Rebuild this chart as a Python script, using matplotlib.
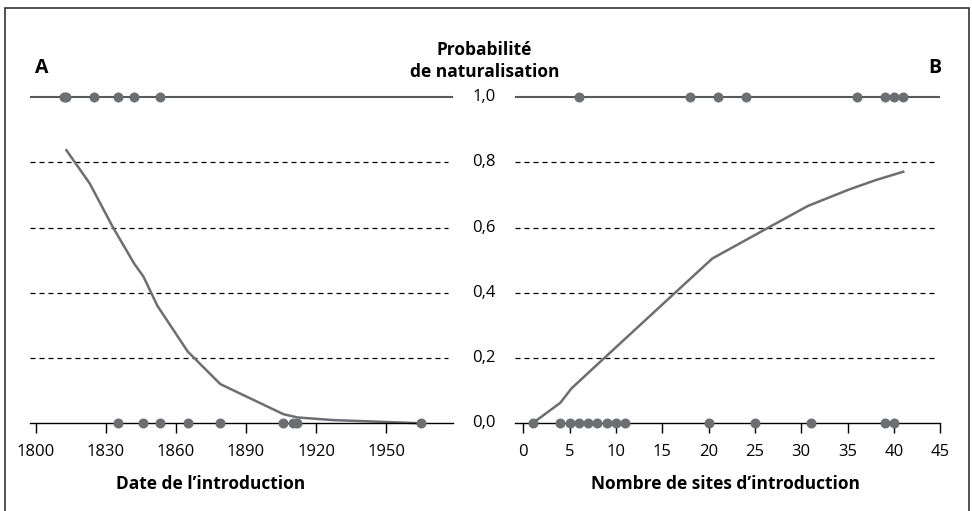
import matplotlib.pyplot as plt
from matplotlib.patches import Rectangle
from matplotlib.transforms import blended_transform_factory

# Panneau A : date de l'introduction
annees_natur = [1812, 1813, 1825, 1835, 1842, 1853]
annees_echec = [1835, 1846, 1853, 1865, 1879, 1906, 1910, 1912, 1965]
annees_courbe = [1813, 1823, 1833, 1842, 1846, 1852, 1865, 1879, 1906, 1912, 1927, 1950, 1965]
proba_annees = [0.837, 0.735, 0.60, 0.49, 0.45, 0.36, 0.22, 0.12, 0.028, 0.018, 0.01, 0.004, 0.0]
ticks_annees = [1800, 1830, 1860, 1890, 1920, 1950]

# Panneau B : nombre de sites d'introduction
sites_natur = [6, 18, 21, 24, 36, 39, 40, 41]
sites_echec = [1, 4, 5, 6, 7, 8, 9, 10, 11, 20, 25, 31, 39, 40]
sites_courbe = [1, 4, 5.2, 8.7, 16.3, 20.4, 26.4, 30.7, 35.2, 38, 41]
proba_sites = [0.0, 0.063, 0.107, 0.199, 0.398, 0.505, 0.599, 0.666, 0.717, 0.745, 0.771]
ticks_sites = [0, 5, 10, 15, 20, 25, 30, 35, 40, 45]

y_ticks = [0.0, 0.2, 0.4, 0.6, 0.8, 1.0]
y_labels = ['0,0', '0,2', '0,4', '0,6', '0,8', '1,0']

plt.rcParams['font.family'] = ['Open Sans', 'DejaVu Sans']

W, H = 972, 511
DOT = '#6d6e71'
LINE = '#58595b'

fig = plt.figure(figsize=(W / 100, H / 100), dpi=100)
fig.patch.set_facecolor('white')


def px(x, y):
    return x / W, 1 - y / H


# cadre
fig.patches.append(Rectangle(px(5, 515), (969 - 5) / W, (515 - 8) / H,
                             transform=fig.transFigure, fill=False,
                             edgecolor='#333333', lw=1.2))

ymin, ymax = -0.03, 1.03
ppu = 326.3
bot = 423.3 - ymin * ppu
top = 97 - (ymax - 1) * ppu


def make_ax(x0, x1, xlim):
    l, b = px(x0, bot)
    ax = fig.add_axes([l, b, (x1 - x0) / W, (bot - top) / H])
    ax.set_xlim(*xlim)
    ax.set_ylim(ymin, ymax)
    for s in ['top', 'left', 'right']:
        ax.spines[s].set_visible(False)
    ax.spines['bottom'].set_position(('data', 0))
    ax.spines['bottom'].set_linewidth(1.0)
    ax.set_yticks([])
    ax.tick_params(axis='x', direction='out', length=7, width=1.0,
                   labelsize=12, pad=8)
    ax.patch.set_visible(False)
    return ax


axA = make_ax(30, 453, (1797.4, 1978.7))
axB = make_ax(515.3, 940.3, (-0.863, 45))

for ax, gx in [(axA, 0.988), (axB, 0.99)]:
    ax.axhline(1.0, color=LINE, lw=1.5, zorder=1)
    for yv in y_ticks[1:-1]:
        ax.axhline(yv, xmin=0, xmax=gx, color='black', lw=0.9,
                   dashes=(4, 3.2), zorder=1)

axA.set_xticks(ticks_annees)
axB.set_xticks(ticks_sites)

axA.plot(annees_courbe, proba_annees, color=DOT, lw=1.8, zorder=2)
axB.plot(sites_courbe, proba_sites, color=DOT, lw=1.8, zorder=2)

for ax, natur, echec in [(axA, annees_natur, annees_echec),
                         (axB, sites_natur, sites_echec)]:
    ax.plot(natur, [1.0] * len(natur), 'o', color=DOT, ms=7.2, mew=0,
            clip_on=False, zorder=3)
    ax.plot(echec, [0.0] * len(echec), 'o', color=DOT, ms=7.2, mew=0,
            clip_on=False, zorder=3)

# étiquettes de probabilité au centre
tr = blended_transform_factory(fig.transFigure, axA.transData)
for yv, lab in zip(y_ticks, y_labels):
    fig.text(484 / W, yv, lab, transform=tr, ha='center', va='center',
             fontsize=12)

fig.text(*px(484.5, 61), 'Probabilité\nde naturalisation', ha='center',
         va='center', fontsize=12.5, fontweight='bold', linespacing=1.25)
fig.text(*px(41.5, 68), 'A', ha='center', va='center', fontsize=14,
         fontweight='bold')
fig.text(*px(935, 68), 'B', ha='center', va='center', fontsize=14,
         fontweight='bold')

fig.text(*px(211, 484), "Date de l’introduction", ha='center', va='center',
         fontsize=12.5, fontweight='bold')
fig.text(*px(725, 484), "Nombre de sites d’introduction", ha='center',
         va='center', fontsize=12.5, fontweight='bold')

fig.savefig('out.png', dpi=100)
